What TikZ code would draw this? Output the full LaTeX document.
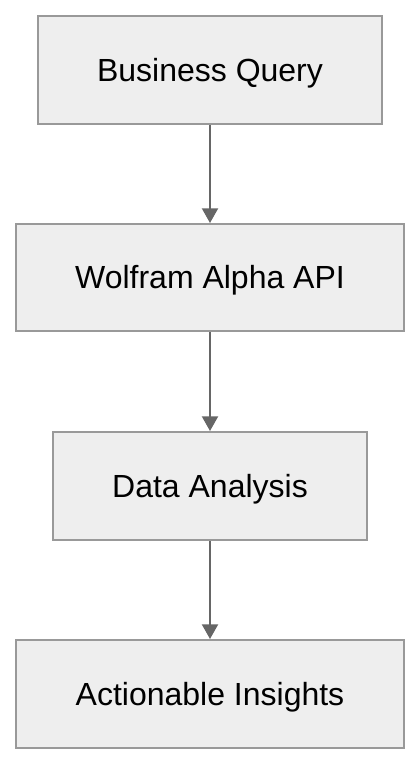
\documentclass[tikz,border=0pt]{standalone}
\usepackage{fontspec}
\setmainfont{Liberation Sans}
\usetikzlibrary{arrows.meta}
\definecolor{boxfill}{HTML}{EEEEEE}
\definecolor{boxline}{HTML}{999999}
\definecolor{arrowc}{HTML}{666666}
\begin{document}
\begin{tikzpicture}[x=0.75pt,y=-0.75pt,
  stepbox/.style={draw=boxline,fill=boxfill,line width=1.5pt,font=\fontsize{24}{28}\selectfont,text height=22pt,text depth=5pt},
  conn/.style={draw=arrowc,line width=1.5pt,-{Triangle[width=12pt,length=11pt]},color=arrowc}]
\useasboundingbox (0,0) rectangle (420,764);
\node[stepbox,minimum width=344*0.75pt,minimum height=108*0.75pt] (q) at (210,70) {Business Query};
\node[stepbox,minimum width=388*0.75pt,minimum height=107*0.75pt] (w) at (210,277.5) {Wolfram Alpha API};
\node[stepbox,minimum width=314*0.75pt,minimum height=108*0.75pt] (d) at (210,486) {Data Analysis};
\node[stepbox,minimum width=388*0.75pt,minimum height=108*0.75pt] (a) at (210,694) {Actionable Insights};
\draw[conn] (q.south) -- (w.north);
\draw[conn] (w.south) -- (d.north);
\draw[conn] (d.south) -- (a.north);
\end{tikzpicture}
\end{document}
